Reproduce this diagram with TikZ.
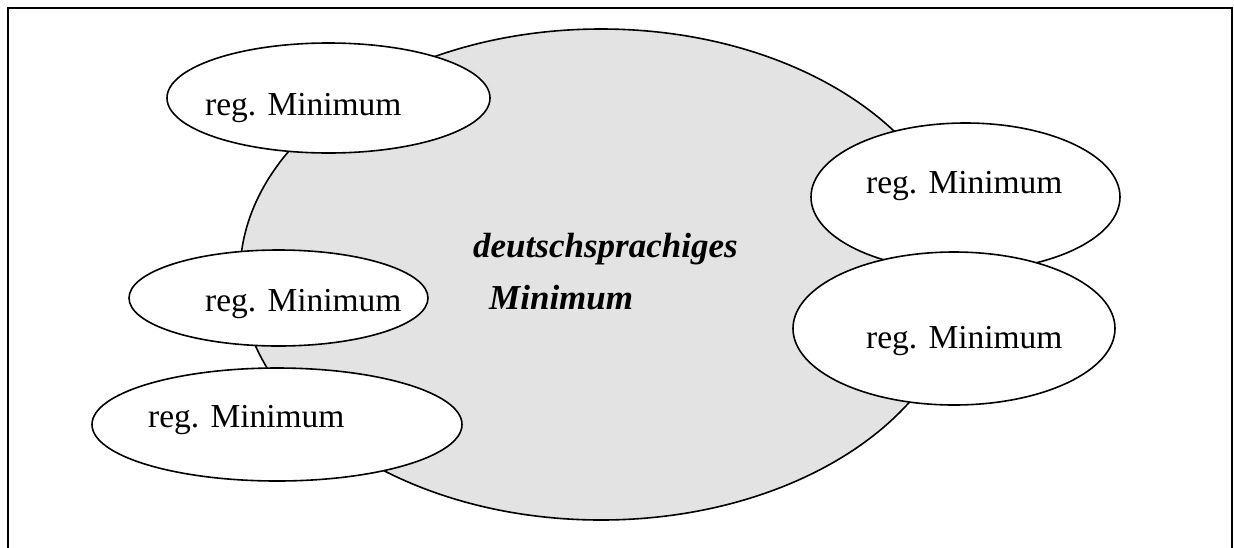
\documentclass[tikz,border=0pt]{standalone}
\usepackage{fontspec}
\setmainfont{Liberation Serif}
\usetikzlibrary{shapes.geometric,calc}
\definecolor{biggray}{HTML}{E3E3E3}
\tikzset{
  frameline/.style={line width=2.4pt, line cap=rect},
  bigell/.style={ellipse, draw, line width=1.6pt, fill=biggray, inner sep=0pt},
  regell/.style={ellipse, draw, line width=1.6pt, fill=white, inner sep=0pt},
  regtxt/.style={anchor=base west, inner sep=0pt, font=\fontsize{33.5}{40}\selectfont},
  maintxt/.style={anchor=base west, inner sep=0pt, font=\fontsize{35}{40}\selectfont\bfseries\itshape}
}
\begin{document}
\begin{tikzpicture}[x=1pt, y=-1pt]
\useasboundingbox (0,0) rectangle (1234,547);
% frame (no bottom edge)
\coordinate (fbl) at (8,547);
\coordinate (ftl) at (8,8);
\coordinate (ftr) at (1232,8);
\coordinate (fbr) at (1232,547);
\draw[frameline] (fbl) -- (ftl) -- (ftr) -- (fbr);
% big ellipse
\node[bigell, minimum width=722pt, minimum height=491pt] (big) at (601,274.5) {};
\node[maintxt] (t1) at (473,257) {deutschsprachiges};
\node[maintxt] (t2) at (489,309) {Minimum};
% regional ellipses
\node[regell, minimum width=323pt, minimum height=110pt] (r1) at (328.5,98) {};
\node[regtxt] (l1) at ($(r1.center)+(-123.5,17)$) {reg. Minimum};
\node[regell, minimum width=309pt, minimum height=148pt] (r2) at (965.5,197) {};
\node[regtxt] (l2) at ($(r2.center)+(-99.5,-4)$) {reg. Minimum};
\node[regell, minimum width=322pt, minimum height=153pt] (r3) at (954,328.5) {};
\node[regtxt] (l3) at ($(r3.center)+(-88,19.5)$) {reg. Minimum};
\node[regell, minimum width=299pt, minimum height=96pt] (r4) at (278.5,298) {};
\node[regtxt] (l4) at ($(r4.center)+(-73.5,13)$) {reg. Minimum};
\node[regell, minimum width=370pt, minimum height=113pt] (r5) at (277,424.5) {};
\node[regtxt] (l5) at ($(r5.center)+(-129,2.5)$) {reg. Minimum};
\end{tikzpicture}
\end{document}
